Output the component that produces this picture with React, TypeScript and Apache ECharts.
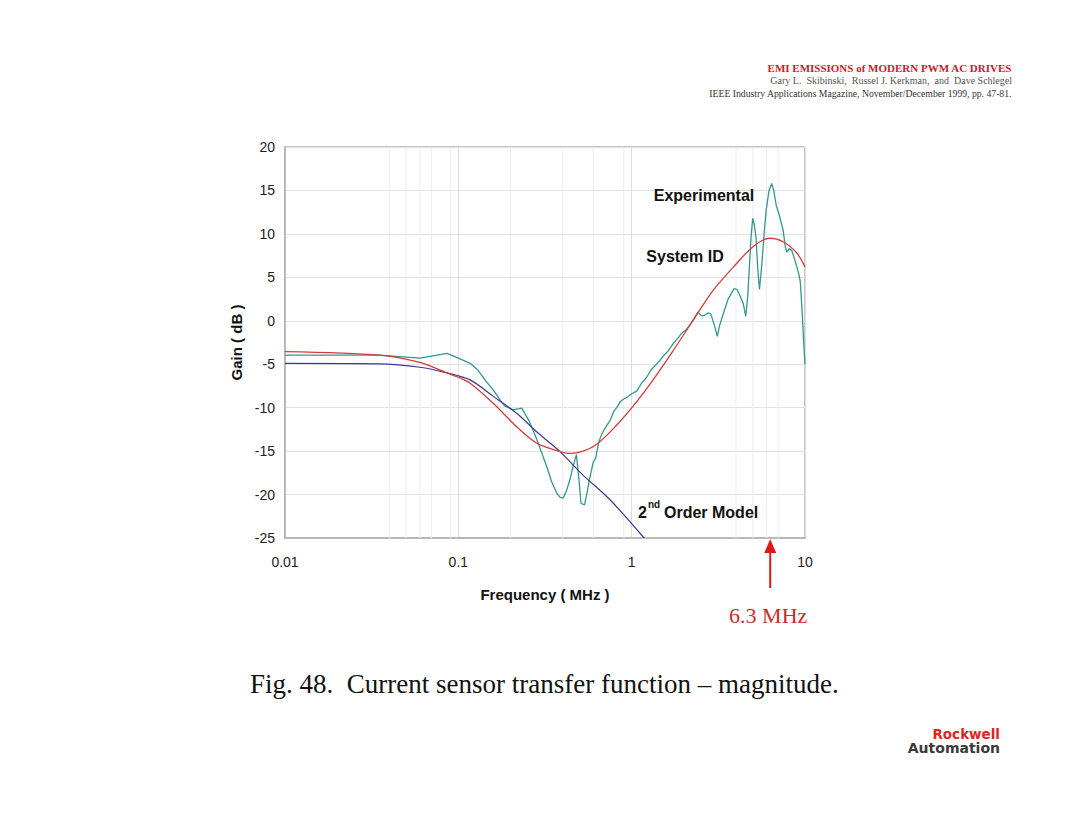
import React, { useEffect, useRef } from "react";
import * as echarts from "echarts";

// Frequency (MHz) / Gain (dB) readings
const experimental: [number, number][] = [
  [0.01, -3.95], [0.035, -3.95], [0.06, -4.3], [0.086, -3.75], [0.1, -4.3],
  [0.117, -4.9], [0.13, -5.7], [0.145, -7.0], [0.159, -7.95], [0.174, -9.1],
  [0.185, -9.8], [0.207, -10.25], [0.232, -10.05], [0.254, -11.4], [0.27, -12.6],
  [0.284, -13.7], [0.305, -15.4], [0.324, -16.8], [0.345, -18.5], [0.369, -19.8],
  [0.385, -20.3], [0.403, -20.4], [0.42, -19.6], [0.44, -18.3], [0.46, -16.7],
  [0.48, -15.4], [0.495, -18.0], [0.51, -21.0], [0.535, -21.2], [0.555, -19.6],
  [0.57, -18.3], [0.6, -16.3], [0.62, -15.8], [0.645, -14.0], [0.67, -13.1],
  [0.71, -12.2], [0.75, -11.5], [0.79, -10.4], [0.82, -10.0], [0.86, -9.3],
  [0.9, -9.0], [0.94, -8.8], [1.0, -8.4], [1.07, -8.1], [1.13, -7.3],
  [1.22, -6.5], [1.3, -5.6], [1.39, -5.0], [1.45, -4.6], [1.53, -4.0],
  [1.62, -3.5], [1.74, -2.6], [1.85, -2.0], [1.95, -1.4], [2.07, -1.0],
  [2.2, -0.3], [2.3, 0.3], [2.41, 1.0], [2.52, 0.6], [2.62, 0.6],
  [2.75, 0.9], [2.86, 0.8], [3.0, -0.5], [3.12, -1.8], [3.22, -0.5],
  [3.34, 0.5], [3.6, 2.5], [3.9, 3.7], [4.05, 3.6], [4.17, 3.1],
  [4.4, 2.0], [4.55, 0.5], [4.68, 3.0], [4.77, 6.0], [4.88, 9.5],
  [4.99, 11.8], [5.1, 11.0], [5.22, 9.5], [5.34, 6.0], [5.46, 3.6],
  [5.58, 5.5], [5.71, 8.0], [5.85, 10.8], [5.97, 12.7], [6.2, 15.0],
  [6.43, 15.8], [6.6, 15.0], [6.82, 13.3], [7.1, 12.2], [7.48, 10.4],
  [7.7, 8.5], [7.84, 7.9], [8.1, 8.3], [8.39, 8.1], [8.7, 7.1],
  [8.97, 6.2], [9.2, 5.4], [9.39, 4.5], [9.6, 1.5], [9.8, -2.0], [10, -5.0],
];

const systemId: [number, number][] = [
  [0.01, -3.55], [0.035, -3.95], [0.06, -4.8], [0.086, -6.0], [0.1, -6.5],
  [0.117, -7.2], [0.159, -9.5], [0.217, -12.2], [0.284, -14.1], [0.386, -15.06],
  [0.43, -15.25], [0.48, -15.2], [0.62, -14.3], [0.82, -12.0], [1.07, -9.3],
  [1.33, -6.8], [1.74, -3.4], [2.27, 0.1], [2.95, 3.5], [3.87, 6.2],
  [4.99, 8.5], [6.25, 9.5], [7.48, 9.1], [8.97, 7.8], [10, 6.2],
];

const secondOrder: [number, number][] = [
  [0.01, -4.9], [0.035, -4.95], [0.06, -5.35], [0.086, -6.0], [0.117, -6.8],
  [0.159, -8.7], [0.217, -10.65], [0.284, -12.8], [0.386, -15.06], [0.52, -17.7],
  [0.75, -20.6], [1.18, -25.0],
];

const xMinorGrid = [0.04, 0.05, 0.06, 0.07, 0.09, 0.2, 0.4, 0.6, 0.9, 4, 5, 6, 7];
const markerFreq = 6.3;

const SANS = "'Liberation Sans', Arial, sans-serif";
const SERIF = "'Liberation Serif', 'Times New Roman', serif";

export default function App() {
  const ref = useRef<HTMLDivElement>(null);

  useEffect(() => {
    if (!ref.current) return;
    const chart = echarts.init(ref.current, null, { renderer: "svg" });

    const option: any = {
      animation: false,
      backgroundColor: "#ffffff",
      grid: {
        left: 285,
        right: 275,
        top: 147,
        bottom: 296,
        show: true,
        borderColor: "#b4b4b4",
        borderWidth: 1.5,
        backgroundColor: "transparent",
      },
      xAxis: {
        type: "log",
        logBase: 10,
        min: 0.01,
        max: 10,
        name: "Frequency ( MHz )",
        nameLocation: "middle",
        nameGap: 49,
        nameTextStyle: { fontFamily: SANS, fontSize: 15, fontWeight: "bold", color: "#111" },
        axisLine: { show: true, onZero: false, lineStyle: { color: "#b0b0b0", width: 1.5 } },
        axisTick: { show: false },
        axisLabel: {
          margin: 17,
          fontFamily: SANS,
          fontSize: 14,
          color: "#222",
          formatter: (v: number) => String(parseFloat(Number(v).toPrecision(3))),
        },
        splitLine: { show: true, lineStyle: { color: "#dedede", width: 1 } },
        minorSplitLine: { show: false },
      },
      yAxis: {
        type: "value",
        min: -25,
        max: 20,
        interval: 5,
        name: "Gain ( dB )",
        nameLocation: "middle",
        nameGap: 41,
        nameTextStyle: { fontFamily: SANS, fontSize: 15, fontWeight: "bold", color: "#111" },
        axisLine: { show: true, onZero: false, lineStyle: { color: "#b0b0b0", width: 1.5 } },
        axisTick: { show: false },
        axisLabel: { margin: 10, fontFamily: SANS, fontSize: 14, color: "#222" },
        splitLine: { show: true, lineStyle: { color: "#e2e2e2", width: 1 } },
      },
      series: [
        {
          type: "custom",
          name: "minorGrid",
          silent: true,
          z: 1,
          data: xMinorGrid.map((f) => [f, -25, 20]),
          encode: { x: 0, y: [1, 2] },
          renderItem: (params: any, api: any) => {
            const a = api.coord([api.value(0), api.value(1)]);
            const b = api.coord([api.value(0), api.value(2)]);
            return {
              type: "line",
              shape: { x1: a[0], y1: a[1], x2: b[0], y2: b[1] },
              style: { stroke: "#ededed", lineWidth: 1 },
            };
          },
        },
        {
          type: "line",
          name: "Experimental",
          data: experimental,
          showSymbol: false,
          smooth: false,
          lineStyle: { color: "#35978c", width: 1.3 },
          z: 3,
        },
        {
          type: "line",
          name: "2nd Order Model",
          data: secondOrder,
          showSymbol: false,
          smooth: 0.3,
          lineStyle: { color: "#3a3a90", width: 1.2 },
          z: 4,
        },
        {
          type: "line",
          name: "System ID",
          data: systemId,
          showSymbol: false,
          smooth: 0.3,
          lineStyle: { color: "#d23c3c", width: 1.3 },
          z: 5,
        },
      ],
    };
    chart.setOption(option);

    const ax = chart.convertToPixel({ xAxisIndex: 0 }, markerFreq) as number;

    chart.setOption({
      graphic: [
        // Header
        {
          type: "text", right: 68, top: 62,
          style: { text: "EMI EMISSIONS of MODERN PWM AC DRIVES", fill: "#c8202a", font: `bold 11px ${SERIF}` },
        },
        {
          type: "text", right: 68, top: 75,
          style: { text: "Gary L.  Skibinski,  Russel J. Kerkman,  and  Dave Schlegel", fill: "#555", font: `10px ${SERIF}` },
        },
        {
          type: "text", right: 68, top: 88,
          style: { text: "IEEE Industry Applications Magazine, November/December 1999, pp. 47-81.", fill: "#333", font: `9.7px ${SERIF}` },
        },
        // Curve labels
        {
          type: "text", x: 704, y: 195,
          style: { text: "Experimental", fill: "#111", font: `bold 16px ${SANS}`, align: "center", verticalAlign: "middle" },
          z: 10,
        },
        {
          type: "text", x: 685, y: 256,
          style: { text: "System ID", fill: "#111", font: `bold 16px ${SANS}`, align: "center", verticalAlign: "middle" },
          z: 10,
        },
        {
          type: "text", x: 638, y: 512,
          style: { text: "2", fill: "#111", font: `bold 16px ${SANS}`, align: "left", verticalAlign: "middle" },
          z: 10,
        },
        {
          type: "text", x: 648, y: 504,
          style: { text: "nd", fill: "#111", font: `bold 10px ${SANS}`, align: "left", verticalAlign: "middle" },
          z: 10,
        },
        {
          type: "text", x: 664, y: 512,
          style: { text: "Order Model", fill: "#111", font: `bold 16px ${SANS}`, align: "left", verticalAlign: "middle" },
          z: 10,
        },
        // Marker arrow
        {
          type: "line",
          shape: { x1: ax, y1: 588, x2: ax, y2: 550 },
          style: { stroke: "#e01818", lineWidth: 2 },
        },
        {
          type: "polygon",
          shape: { points: [[ax - 6, 553], [ax + 6, 553], [ax, 539]] },
          style: { fill: "#e01818" },
        },
        {
          type: "text", x: ax - 2, y: 615,
          style: { text: "6.3 MHz", fill: "#cc2a2a", font: `22px ${SERIF}`, align: "center", verticalAlign: "middle" },
        },
        // Caption
        {
          type: "text", x: 250, y: 684,
          style: { text: "Fig. 48.  Current sensor transfer function \u2013 magnitude.", fill: "#111", font: `27px ${SERIF}`, align: "left", verticalAlign: "middle" },
        },
        // Logo
        {
          type: "text", x: 1000, y: 734,
          style: { text: "Rockwell", fill: "#e02424", font: `bold 13.5px 'DejaVu Sans', sans-serif`, align: "right", verticalAlign: "middle" },
        },
        {
          type: "text", x: 1000, y: 748,
          style: { text: "Automation", fill: "#3a3a3a", font: `bold 14px 'DejaVu Sans', sans-serif`, align: "right", verticalAlign: "middle" },
        },
      ],
    });

    return () => chart.dispose();
  }, []);

  return (
    <div
      ref={ref}
      style={{ position: "absolute", left: 0, top: 0, width: 1080, height: 834, background: "#fff" }}
    />
  );
}
